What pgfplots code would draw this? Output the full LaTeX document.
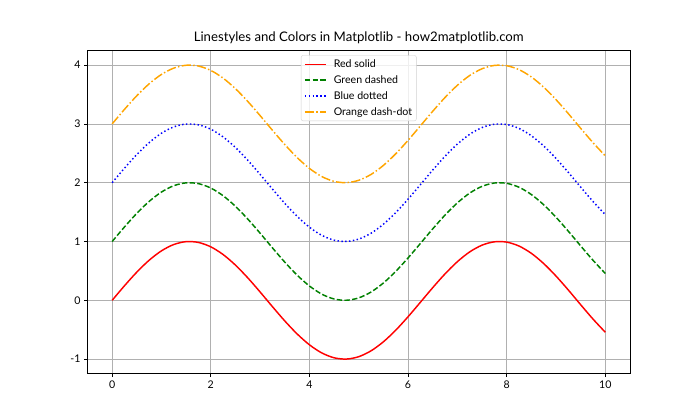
\documentclass[border=0pt]{standalone}
\usepackage{pgfplots}
\usepackage{pgfplotstable}
\usepackage{fontspec}
\setmainfont{Lato}
\pgfplotsset{compat=1.18}
\definecolor{mplorange}{rgb}{1,0.647,0}
\definecolor{mplgreen}{rgb}{0,0.5,0}
\definecolor{gridgray}{HTML}{B0B0B0}

% x, sin(x), sin(x)+1, sin(x)+2, sin(x)+3
\pgfplotstableread{
x     a       b       c       d
0.00  0.0000  1.0000  2.0000  3.0000
0.25  0.2474  1.2474  2.2474  3.2474
0.50  0.4794  1.4794  2.4794  3.4794
0.75  0.6816  1.6816  2.6816  3.6816
1.00  0.8415  1.8415  2.8415  3.8415
1.25  0.9490  1.9490  2.9490  3.9490
1.50  0.9975  1.9975  2.9975  3.9975
1.75  0.9840  1.9840  2.9840  3.9840
2.00  0.9093  1.9093  2.9093  3.9093
2.25  0.7781  1.7781  2.7781  3.7781
2.50  0.5985  1.5985  2.5985  3.5985
2.75  0.3817  1.3817  2.3817  3.3817
3.00  0.1411  1.1411  2.1411  3.1411
3.25 -0.1082  0.8918  1.8918  2.8918
3.50 -0.3508  0.6492  1.6492  2.6492
3.75 -0.5716  0.4284  1.4284  2.4284
4.00 -0.7568  0.2432  1.2432  2.2432
4.25 -0.8950  0.1050  1.1050  2.1050
4.50 -0.9775  0.0225  1.0225  2.0225
4.75 -0.9993  0.0007  1.0007  2.0007
5.00 -0.9589  0.0411  1.0411  2.0411
5.25 -0.8589  0.1411  1.1411  2.1411
5.50 -0.7055  0.2945  1.2945  2.2945
5.75 -0.5083  0.4917  1.4917  2.4917
6.00 -0.2794  0.7206  1.7206  2.7206
6.25 -0.0332  0.9668  1.9668  2.9668
6.50  0.2151  1.2151  2.2151  3.2151
6.75  0.4500  1.4500  2.4500  3.4500
7.00  0.6570  1.6570  2.6570  3.6570
7.25  0.8235  1.8235  2.8235  3.8235
7.50  0.9380  1.9380  2.9380  3.9380
7.75  0.9945  1.9945  2.9945  3.9945
8.00  0.9894  1.9894  2.9894  3.9894
8.25  0.9226  1.9226  2.9226  3.9226
8.50  0.7985  1.7985  2.7985  3.7985
8.75  0.6247  1.6247  2.6247  3.6247
9.00  0.4121  1.4121  2.4121  3.4121
9.25  0.1743  1.1743  2.1743  3.1743
9.50 -0.0752  0.9248  1.9248  2.9248
9.75 -0.3195  0.6805  1.6805  2.6805
10.00 -0.5440  0.4560  1.4560  2.4560
}\waves

\begin{document}
\begin{tikzpicture}
\useasboundingbox (0,0) rectangle (700bp,420bp);
\begin{axis}[
    at={(87.5bp,46.2bp)}, anchor=south west,
    width=542.5bp, height=323.4bp,
    scale only axis,
    xmin=-0.5, xmax=10.5,
    ymin=-1.25, ymax=4.25,
    xtick={0,2,4,6,8,10},
    ytick={-1,0,1,2,3,4},
    tick align=outside,
    tick pos=left,
    major tick length=3.4bp,
    tick style={black, line width=0.8bp},
    axis line style={line width=0.8bp},
    grid=major,
    major grid style={gridgray, line width=0.78bp},
    ticklabel style={font=\fontsize{10.6bp}{12bp}\selectfont},
    /pgf/number format/assume math mode=true,
    title={Linestyles and Colors in Matplotlib - how2matplotlib.com},
    title style={font=\fontsize{13.2bp}{15bp}\selectfont, yshift=-3bp},
    legend style={at={(0.5,0.985)}, anchor=north,
        font=\fontsize{10.6bp}{12bp}\selectfont,
        draw=gray!35, rounded corners=2bp, fill=white, fill opacity=0.8,
        text opacity=1, row sep=4.2bp, inner sep=3bp,
        nodes={inner sep=1.2bp}},
    legend cell align=left,
    legend image code/.code={
        \draw[#1, line width=1.46bp] (0bp,0bp) -- (21bp,0bp);
        \path (27bp,0bp);},
]
\addplot[red, line width=1.46bp, smooth] table[x=x, y=a] {\waves};
\addlegendentry{Red solid}
\addplot[mplgreen, line width=1.46bp, smooth, dash pattern=on 5.4bp off 2.3bp] table[x=x, y=b] {\waves};
\addlegendentry{Green dashed}
\addplot[blue, line width=1.46bp, smooth, dash pattern=on 1.46bp off 2.4bp] table[x=x, y=c] {\waves};
\addlegendentry{Blue dotted}
\addplot[mplorange, line width=1.46bp, smooth, dash pattern=on 9.3bp off 2.3bp on 1.46bp off 2.3bp] table[x=x, y=d] {\waves};
\addlegendentry{Orange dash-dot}
\end{axis}
\end{tikzpicture}
\end{document}
